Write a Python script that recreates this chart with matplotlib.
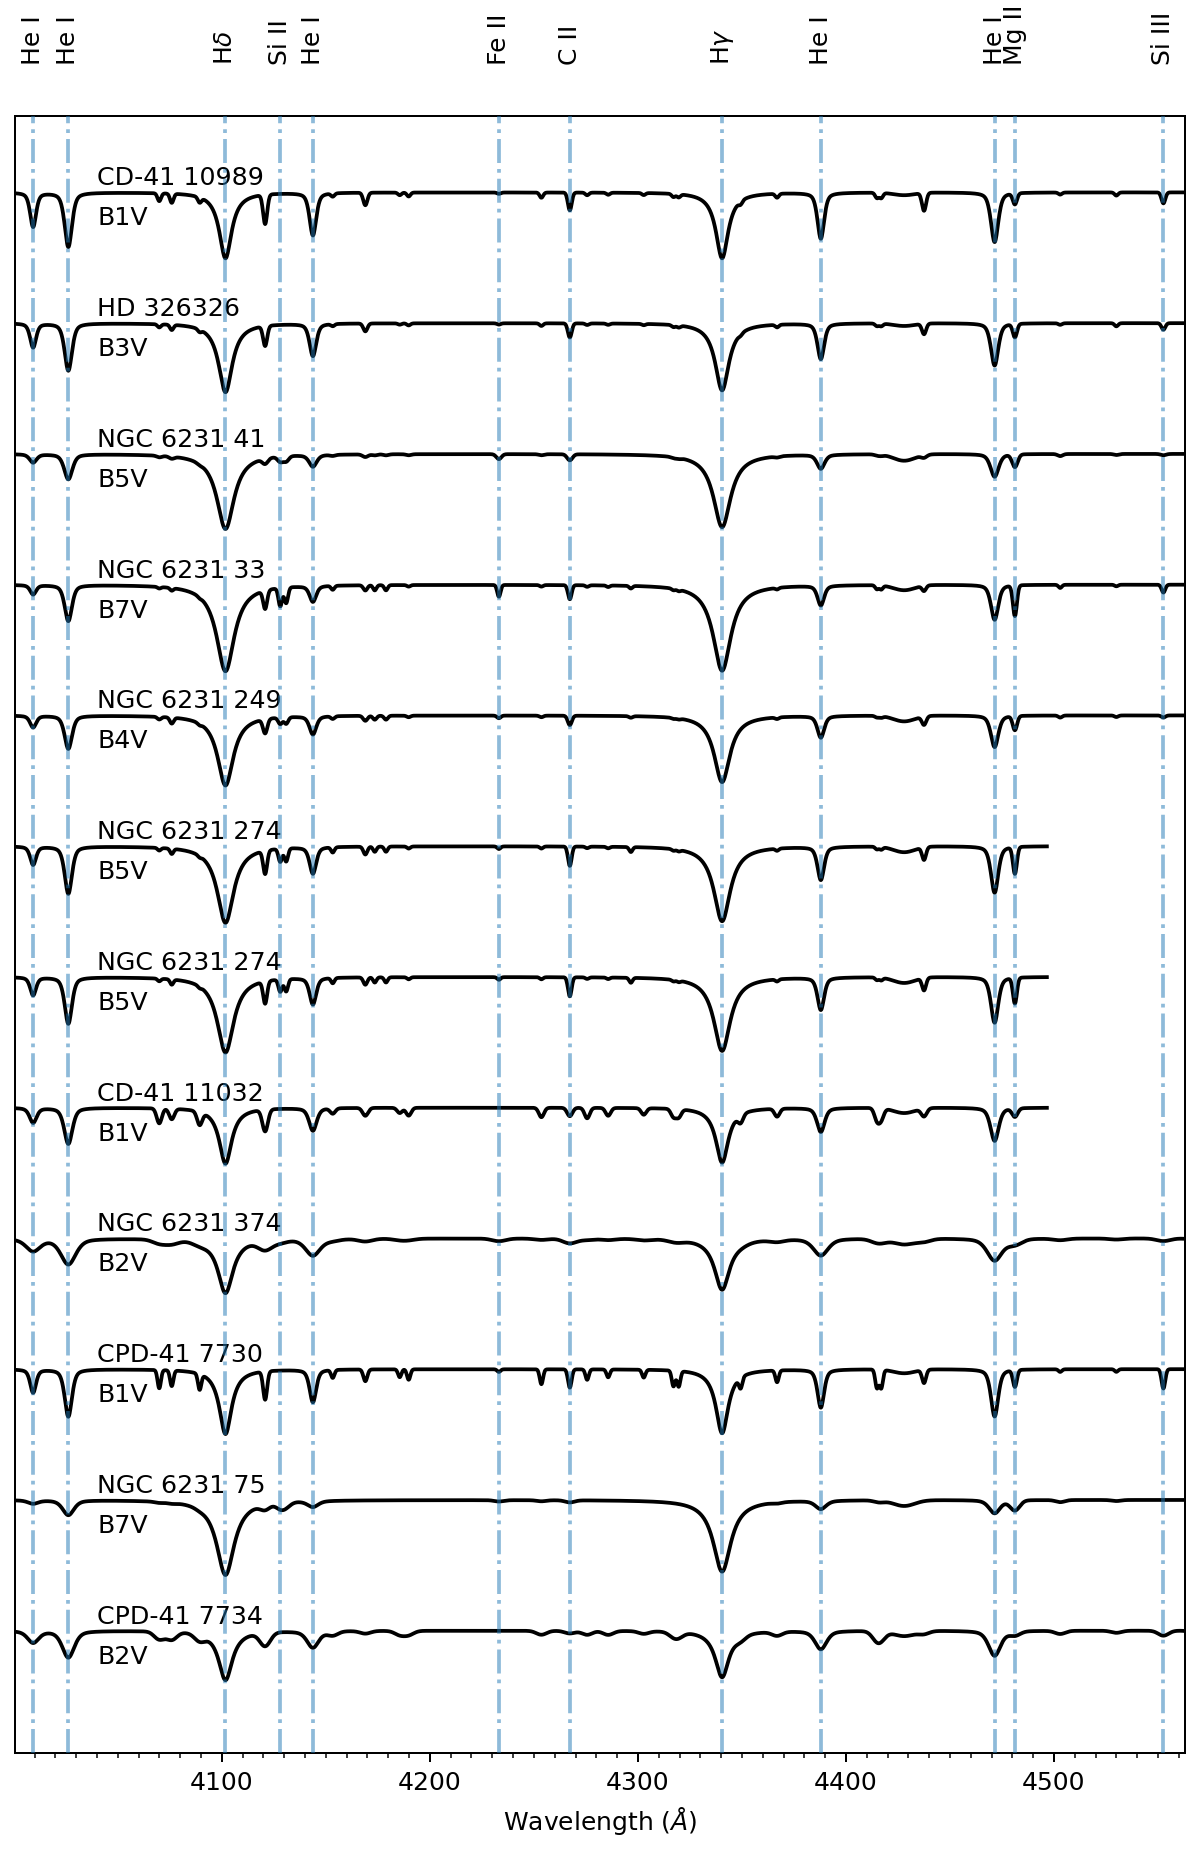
import numpy as np
import matplotlib
matplotlib.use("Agg")
import matplotlib.pyplot as plt
from matplotlib.transforms import blended_transform_factory

# ---------------- data ----------------
names = ["CD-41 10989", "HD 326326", "NGC 6231 41", "NGC 6231 33", "NGC 6231 249",
         "NGC 6231 274", "NGC 6231 274", "CD-41 11032", "NGC 6231 374",
         "CPD-41 7730", "NGC 6231 75", "CPD-41 7734"]
sptypes = ["B1V", "B3V", "B5V", "B7V", "B4V", "B5V", "B5V", "B1V", "B2V", "B1V", "B7V", "B2V"]
wave_end = [4563, 4563, 4563, 4563, 4563, 4496.6, 4496.6, 4496.6, 4563, 4563, 4563, 4563]

# marked lines (top labels)
mark_waves = [4009.26, 4026.19, 4101.74, 4128.07, 4143.76, 4233.17, 4267.26,
              4340.47, 4387.93, 4471.48, 4481.23, 4552.62]
mark_labels = ["He I", "He I", r"H$\delta$", "Si II", "He I", "Fe II", "C II",
               r"H$\gamma$", "He I", "He I", "Mg II", "Si III"]

# main absorption lines: centres, base half widths (A), Lorentz fraction
main_waves = [4009.26, 4026.19, 4101.74, 4120.8, 4128.07, 4130.9, 4143.76, 4168.97,
              4233.17, 4267.26, 4340.47, 4387.93, 4437.55, 4471.48, 4481.23, 4552.62]
main_hw = [1.6, 2.0, 0.0, 1.0, 0.9, 0.9, 1.8, 1.0, 0.8, 0.9, 0.0, 1.8, 1.0, 2.0, 1.0, 0.9]
main_eta = [0.5, 0.5, 1.0, 0.0, 0.0, 0.0, 0.5, 0.0, 0.0, 0.0, 1.0, 0.5, 0.0, 0.5, 0.0, 0.0]
balmer_idx = [2, 10]

# line depths (normalised flux), one row per star
main_depth = [
    [.131, .208, .252, .112, .000, .000, .163, .048, .005, .068, .252, .176, .068, .190, .042, .042],
    [.092, .181, .264, .076, .000, .000, .124, .030, .005, .054, .257, .136, .040, .162, .051, .025],
    [.032, .096, .287, .020, .020, .020, .045, .010, .019, .023, .280, .054, .010, .087, .048, .005],
    [.036, .138, .331, .070, .070, .060, .061, .020, .045, .054, .329, .076, .020, .134, .117, .030],
    [.045, .127, .268, .054, .025, .025, .070, .019, .010, .036, .255, .083, .032, .121, .054, .008],
    [.070, .181, .293, .089, .050, .050, .102, .030, .010, .074, .287, .127, .048, .178, .102, .000],
    [.069, .178, .289, .085, .047, .047, .102, .028, .010, .073, .283, .124, .047, .175, .098, .000],
    [.057, .138, .214, .083, .000, .000, .087, .030, .000, .032, .210, .092, .030, .127, .032, .000],
    [.047, .098, .209, .034, .010, .000, .064, .010, .010, .018, .196, .064, .010, .085, .020, .010],
    [.089, .181, .248, .108, .000, .000, .125, .045, .010, .070, .245, .146, .050, .181, .064, .074],
    [.013, .057, .287, .020, .020, .015, .023, .000, .005, .008, .274, .032, .000, .051, .038, .000],
    [.045, .102, .189, .051, .000, .000, .064, .010, .000, .010, .178, .070, .010, .096, .015, .019],
]

# Balmer half widths and extra (rotational) broadening per star, in Angstrom
balmer_hw = [3.6, 4.0, 5.0, 5.2, 4.6, 4.8, 4.8, 3.6, 4.0, 3.6, 5.0, 3.8]
rot_broad = [0.6, 0.6, 1.2, 0.5, 0.7, 0.5, 0.5, 1.2, 3.8, 0.5, 2.5, 2.8]

# weak metal lines
weak_waves = [4069.9, 4075.9, 4089.3, 4153.3, 4173.5, 4178.9, 4185.5, 4189.8, 4253.6,
              4275.6, 4285.7, 4296.6, 4302.8, 4317.1, 4319.6, 4349.4, 4366.9, 4414.9,
              4416.97, 4503.0, 4530.0, 4567.8, 4574.8]
weak_depth = [
    [.030, .035, .020, .012, .000, .000, .010, .015, .020, .010, .008, .000, .008, .012, .012, .012, .015, .020, .020, .008, .012, .012, .008],
    [.012, .020, .010, .008, .000, .000, .005, .008, .010, .006, .005, .000, .005, .008, .008, .006, .010, .010, .010, .006, .012, .006, .004],
    [.006, .008, .004, .004, .004, .004, .000, .004, .004, .000, .000, .000, .000, .004, .004, .000, .004, .004, .004, .008, .004, .000, .000],
    [.006, .010, .004, .015, .020, .020, .000, .006, .006, .006, .006, .010, .000, .006, .006, .000, .006, .015, .015, .012, .006, .010, .006],
    [.010, .023, .006, .010, .015, .015, .000, .006, .006, .000, .000, .006, .000, .004, .004, .000, .006, .006, .006, .008, .006, .004, .000],
    [.010, .020, .006, .020, .020, .020, .000, .008, .008, .006, .006, .019, .000, .006, .006, .000, .008, .010, .010, .000, .000, .000, .000],
    [.010, .020, .006, .020, .020, .020, .000, .008, .008, .006, .006, .019, .000, .006, .006, .000, .008, .010, .010, .000, .000, .000, .000],
    [.057, .040, .050, .020, .000, .000, .020, .030, .036, .040, .030, .000, .025, .030, .030, .030, .030, .045, .040, .000, .000, .000, .000],
    [.015, .015, .010, .005, .000, .000, .005, .005, .005, .005, .005, .000, .005, .005, .005, .005, .008, .010, .008, .006, .004, .004, .004],
    [.070, .060, .060, .030, .000, .000, .030, .040, .057, .040, .030, .000, .030, .060, .060, .040, .045, .070, .070, .010, .010, .030, .020],
    [.004, .004, .004, .000, .000, .000, .000, .000, .004, .000, .000, .000, .000, .000, .000, .000, .004, .004, .004, .008, .004, .000, .000],
    [.030, .030, .025, .015, .000, .000, .015, .015, .015, .015, .015, .000, .010, .015, .015, .015, .015, .030, .020, .012, .008, .010, .006],
]
weak_hw = [0.8, 0.8, 0.8, 0.8, 0.8, 0.8, 0.8, 0.8, 0.8, 0.8, 0.5, 0.8]

# diffuse interstellar band near 4428 A
dib_wave = 4428.0
dib_depth = [.010, .010, .025, .020, .022, .022, .022, .020, .022, .015, .022, .020]

# ---------------- model spectra ----------------
def absorb(w, c, d, hw, eta):
    x = (w - c) / hw
    return d * (eta / (1.0 + x**2) + (1.0 - eta) * np.exp(-np.log(2) * x**2))


def spectrum(i):
    w = np.arange(3998.0, wave_end[i], 0.2)
    f = np.ones_like(w)
    for j, c in enumerate(main_waves):
        d = main_depth[i][j]
        if d <= 0:
            continue
        if j in balmer_idx:
            hw = np.hypot(balmer_hw[i], rot_broad[i] * 0.5)
        else:
            hw = np.hypot(main_hw[j], rot_broad[i])
        f -= absorb(w, c, d, hw, main_eta[j])
    for j, c in enumerate(weak_waves):
        d = weak_depth[i][j]
        if d <= 0:
            continue
        f -= absorb(w, c, d, np.hypot(weak_hw[i], rot_broad[i]), 0.0)
    f -= absorb(w, dib_wave, dib_depth[i], 6.0, 0.0)
    return w, f


# ---------------- figure ----------------
plt.rcParams['font.family'] = ['DejaVu Sans']
fig = plt.figure(figsize=(1200 / 180, 1851 / 180), dpi=180)
ax = fig.add_axes([14.9 / 1200, 1 - 1753.3 / 1851, (1185 - 14.9) / 1200, (1753.3 - 116) / 1851])

step = 0.5
for i in range(len(names)):
    w, f = spectrum(i)
    off = -step * i
    ax.plot(w, f + off, color='black', lw=1.5, zorder=2)
    ax.text(4040, 1.0 + off + 0.027, names[i], fontsize=10.1, va='baseline', ha='left')
    ax.text(4040, 1.0 + off - 0.126, sptypes[i], fontsize=10.1, va='baseline', ha='left')

trans = blended_transform_factory(ax.transData, ax.transAxes)
for wv, lab in zip(mark_waves, mark_labels):
    ax.axvline(wv, color='C0', alpha=0.5, ls='-.', lw=1.5, zorder=3)
    ax.text(wv, 1.031, lab, rotation=90, ha='center', va='bottom', fontsize=10,
            transform=trans)

ax.set_xlim(4000.5, 4563)
ax.set_ylim(-4.969, 1.292)
ax.set_yticks([])
ax.set_xticks([4100, 4200, 4300, 4400, 4500])
ax.xaxis.set_minor_locator(matplotlib.ticker.MultipleLocator(10))
ax.set_xlabel(r"Wavelength ($\AA$)", fontsize=10)

fig.savefig("out.png", dpi=180)
